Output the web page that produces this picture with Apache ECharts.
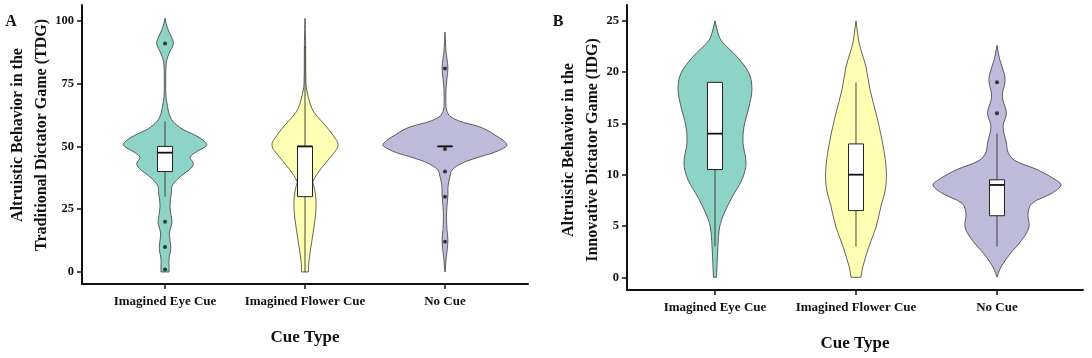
<!DOCTYPE html>
<html>
<head>
<meta charset="utf-8">
<script src="https://cdn.jsdelivr.net/npm/echarts@6/dist/echarts.min.js"></script>
<style>
  html, body { margin: 0; padding: 0; background: #fff; }
  #chart { width: 1092px; height: 358px; }
</style>
</head>
<body>
<div id="chart"></div>
<script>
var categories = ['Imagined Eye Cue', 'Imagined Flower Cue', 'No Cue'];
var ticksA = [0, 25, 50, 75, 100];
var ticksB = [0, 5, 10, 15, 20, 25];

// violin outlines: [value, half width in category units]
var eyeA = [[0, .029], [2, .029], [5.5, .029], [8, .038], [10, .041], [12.5, .036], [15.5, .031], [18, .043], [20, .05], [22.5, .043],
  [26, .036], [29, .039], [31.4, .046], [34, .05], [36.8, .086], [39.4, .143], [41.3, .186], [43.3, .202], [45.6, .179], [47.5, .214],
  [50.5, .298], [52.5, .271], [54.5, .214], [57, .121], [60, .057], [63, .029], [66, .018], [70, .007], [75, .005], [80, .006],
  [84, .011], [87, .029], [91, .06], [94, .043], [97, .018], [101, 0]];
var flowerA = [[0, .024], [4.8, .029], [12.7, .05], [20.7, .071], [26, .079], [31, .075], [34, .064], [36, .057], [40.6, .107],
  [46, .186], [50.5, .236], [55, .193], [58.5, .143], [62, .086], [65, .05], [68.5, .029], [72, .014], [75, .007], [85, .005],
  [92, .004], [101, 0]];
var noCueA = [[0, 0], [2, .004], [4.8, .007], [8, .014], [12.7, .021], [17, .014], [22, .011], [26, .014], [30.7, .021], [33, .021],
  [35.4, .025], [38, .036], [40.6, .05], [43.3, .121], [45.5, .229], [47.3, .336], [49, .407], [50.5, .443], [52.5, .414],
  [54.5, .357], [56.5, .3], [58, .236], [60, .107], [62, .036], [64, .014], [66, .007], [72.5, .007], [77, .014], [81, .021],
  [85, .014], [88, .007], [95.5, 0]];
var eyeB = [[0, .011], [1, .014], [3, .021], [4.9, .033], [6.2, .064], [7.8, .121], [9.5, .191], [11.1, .22], [13.1, .199],
  [14.7, .206], [16.6, .241], [18.3, .262], [19.9, .241], [21.5, .156], [23.1, .043], [24.2, .014], [25, 0]];
var flowerB = [[0, .035], [1, .048], [3, .092], [4.9, .142], [6.9, .177], [8.8, .211], [10.8, .213], [13.4, .184], [16, .142],
  [18.3, .099], [20.5, .071], [22.8, .023], [25, 0]];
var noCueB = [[0, 0], [1, .028], [2.3, .094], [3.6, .175], [4.9, .227], [6.2, .22], [7.2, .248], [8.2, .39], [9, .454], [9.6, .404],
  [10.5, .284], [11.4, .124], [12.2, .078], [13.1, .067], [14.7, .043], [16, .067], [17.6, .038], [19.1, .057], [19.9, .05],
  [21.2, .02], [22.6, 0]];

// box: [lower whisker, Q1, median, Q3, upper whisker]
var boxA = [[30, 40, 47.5, 50, 60], [0, 30, 50, 50, 90], [50, 50, 50, 50, 50]];
var boxB = [[3, 10.5, 14, 19, 19], [3, 6.5, 10, 13, 19], [3, 6, 9, 9.5, 14]];

// outliers: [category index, value]
var outA = [[0, 91], [0, 20], [0, 10], [0, 1], [2, 81], [2, 49], [2, 40], [2, 30], [2, 12]];
var outB = [[2, 19], [2, 16]];

var fills = ['#8DD3C7', '#FFFFB3', '#BEBADA'];
var serif = 'Liberation Serif';

function violin(profiles) {
  return function (params, api) {
    var c = api.value(0);
    var prof = profiles[params.dataIndex];
    var right = prof.map(function (p) { return api.coord([c + p[1], p[0]]); });
    var left = prof.slice().reverse().map(function (p) { return api.coord([c - p[1], p[0]]); });
    // keep a flat, square bottom where the violin is cut off
    if (prof[0][1] > 0) {
      right.unshift(right[0].slice());
      left.push(left[left.length - 1].slice());
    }
    return {
      type: 'polygon',
      shape: { points: right.concat(left), smooth: 0.35 },
      style: { fill: fills[c], stroke: '#3c3c3c', lineWidth: 0.8 }
    };
  };
}

function box(params, api) {
  var c = api.value(0);
  var lo = api.coord([c, api.value(1)]), q1 = api.coord([c, api.value(2)]), md = api.coord([c, api.value(3)]);
  var q3 = api.coord([c, api.value(4)]), hi = api.coord([c, api.value(5)]);
  var hw = 7.5;
  return {
    type: 'group',
    children: [
      { type: 'line', shape: { x1: lo[0], y1: lo[1], x2: hi[0], y2: hi[1] }, style: { stroke: '#333', lineWidth: 0.9 } },
      { type: 'rect', shape: { x: q3[0] - hw, y: q3[1], width: hw * 2, height: q1[1] - q3[1] },
        style: { fill: '#fff', stroke: '#222', lineWidth: 1 } },
      { type: 'line', shape: { x1: md[0] - hw, y1: md[1], x2: md[0] + hw, y2: md[1] }, style: { stroke: '#111', lineWidth: 1.8 } }
    ]
  };
}

function xAxisCfg(idx, min, max) {
  return {
    type: 'value', gridIndex: idx, min: min, max: max,
    name: 'Cue Type', nameLocation: 'middle', nameGap: 45,
    nameTextStyle: { fontFamily: serif, fontWeight: 'bold', fontSize: 17, color: '#111' },
    splitLine: { show: false },
    axisLine: { onZero: false, lineStyle: { color: '#111', width: 2 } },
    axisTick: { customValues: [0, 1, 2], length: 5, lineStyle: { color: '#111', width: 1.5 } },
    axisLabel: {
      customValues: [0, 1, 2], margin: 11, fontFamily: serif, fontWeight: 'bold', fontSize: 13, color: '#111',
      formatter: function (v) { return categories[Math.round(v)]; }
    }
  };
}

function yAxisCfg(idx, min, max, ticks) {
  return {
    type: 'value', gridIndex: idx, min: min, max: max,
    splitLine: { show: false },
    axisLine: { show: true, onZero: false, lineStyle: { color: '#111', width: 2 } },
    axisTick: { show: true, customValues: ticks, length: 5, lineStyle: { color: '#111', width: 1.5 } },
    axisLabel: { customValues: ticks, margin: 8, fontFamily: serif, fontWeight: 'bold', fontSize: 12.5, color: '#111' }
  };
}

function title(x, y, txt, size, rot) {
  return {
    type: 'text', x: x, y: y, rotation: rot || 0,
    style: { text: txt, fontFamily: serif, fontWeight: 'bold', fontSize: size, fill: '#111', align: 'center', verticalAlign: 'middle' }
  };
}

var chart = echarts.init(document.getElementById('chart'));
var option = {
  animation: false,
  grid: [
    { left: 82, right: 564, top: 5, bottom: 74 },
    { left: 627, right: 9, top: 5, bottom: 68 }
  ],
  xAxis: [xAxisCfg(0, -0.593, 2.593), xAxisCfg(1, -0.624, 2.61)],
  yAxis: [yAxisCfg(0, -4.78, 106.3, ticksA), yAxisCfg(1, -1.24, 26.54, ticksB)],
  graphic: [
    title(11, 22, 'A', 16),
    title(558, 22, 'B', 16),
    title(18, 135, 'Altruistic Behavior in the', 16, Math.PI / 2),
    title(42, 135, 'Traditional Dictator Game (TDG)', 16, Math.PI / 2),
    title(569, 150, 'Altruistic Behavior in the', 16, Math.PI / 2),
    title(593, 150, 'Innovative Dictator Game (IDG)', 16, Math.PI / 2)
  ],
  series: [
    { type: 'custom', xAxisIndex: 0, yAxisIndex: 0, renderItem: violin([eyeA, flowerA, noCueA]), data: [[0], [1], [2]] },
    { type: 'custom', xAxisIndex: 1, yAxisIndex: 1, renderItem: violin([eyeB, flowerB, noCueB]), data: [[0], [1], [2]] },
    { type: 'custom', xAxisIndex: 0, yAxisIndex: 0, renderItem: box, data: boxA.map(function (b, i) { return [i].concat(b); }) },
    { type: 'custom', xAxisIndex: 1, yAxisIndex: 1, renderItem: box, data: boxB.map(function (b, i) { return [i].concat(b); }) },
    { type: 'scatter', xAxisIndex: 0, yAxisIndex: 0, symbolSize: 4, itemStyle: { color: '#111' }, data: outA },
    { type: 'scatter', xAxisIndex: 1, yAxisIndex: 1, symbolSize: 4, itemStyle: { color: '#111' }, data: outB }
  ]
};
chart.setOption(option);
</script>
</body>
</html>
